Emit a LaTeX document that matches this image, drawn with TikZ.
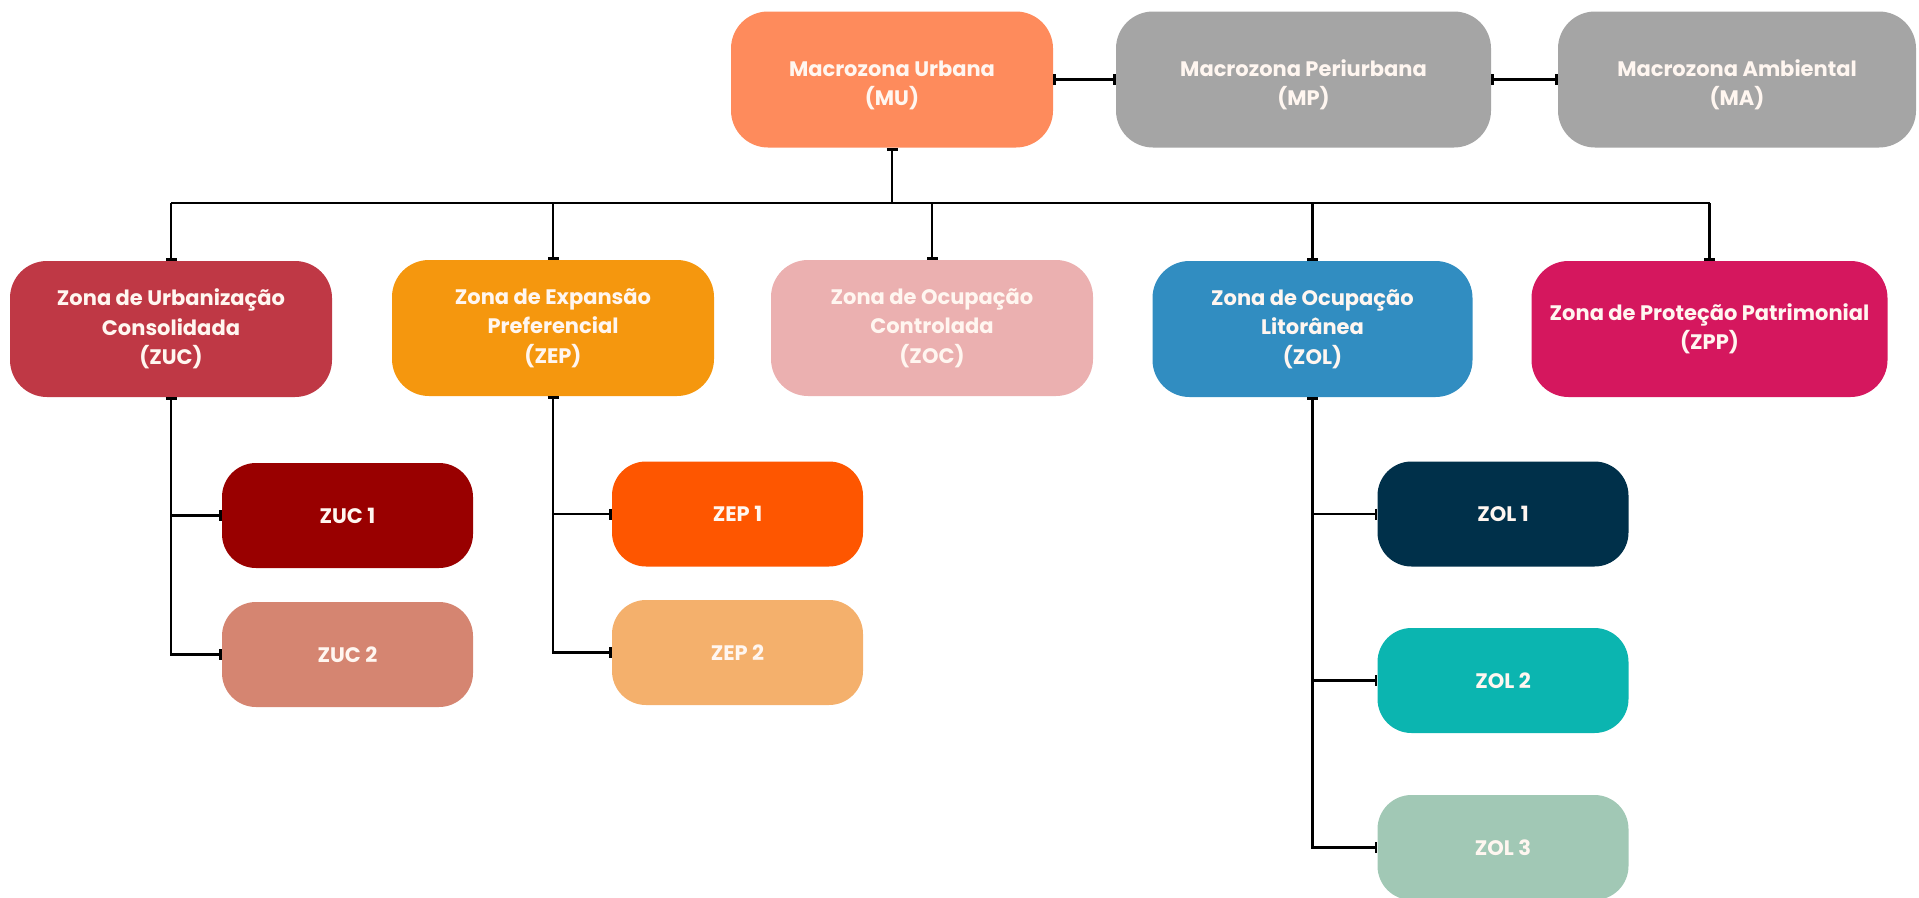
\documentclass[tikz,border=0pt]{standalone}
\usepackage{fontspec}
\setmainfont{Poppins}
\usetikzlibrary{arrows.meta}
\definecolor{cMU}{HTML}{FE8B5C}
\definecolor{cGray}{HTML}{A5A5A5}
\definecolor{cZUC}{HTML}{BF3845}
\definecolor{cZEP}{HTML}{F5970E}
\definecolor{cZOC}{HTML}{EBB0B0}
\definecolor{cZOL}{HTML}{318DC1}
\definecolor{cZPP}{HTML}{D5175E}
\definecolor{cZUCa}{HTML}{990000}
\definecolor{cZUCb}{HTML}{D58571}
\definecolor{cZEPa}{HTML}{FE5600}
\definecolor{cZEPb}{HTML}{F4B06C}
\definecolor{cZOLa}{HTML}{00304A}
\definecolor{cZOLb}{HTML}{0BB5B0}
\definecolor{cZOLc}{HTML}{A1C8B5}
\definecolor{txt}{HTML}{FFF6F0}
\newcommand{\lowr}{\rule{0pt}{27pt}}
\tikzset{
  zbox/.style={rectangle, rounded corners=37pt, inner sep=0pt, align=center,
    text=txt, font=\fontsize{21}{29.5}\selectfont\bfseries},
  bigbox/.style={zbox, minimum height=136pt},
  subbox/.style={zbox, rounded corners=34pt, minimum width=251pt, minimum height=105pt},
  conn/.style={line width=2.8pt, black},
  tip/.tip={Bar[width=11pt]}
}
\begin{document}
\begin{tikzpicture}[x=1pt,y=-1pt]
\useasboundingbox (0,0) rectangle (1919,897);
% top row
\node[bigbox, fill=cMU, minimum width=322pt] (MU) at (892,79.5) {\lowr Macrozona Urbana\\(MU)};
\node[bigbox, fill=cGray, minimum width=375pt] (MP) at (1303.5,79.5) {\lowr Macrozona Periurbana\\(MP)};
\node[bigbox, fill=cGray, minimum width=358pt] (MA) at (1737,79.5) {\lowr Macrozona Ambiental\\(MA)};
% second row
\node[bigbox, fill=cZUC, minimum width=322pt] (ZUC) at (171,329) {Zona de Urbanização\\Consolidada\\(ZUC)};
\node[bigbox, fill=cZEP, minimum width=322pt] (ZEP) at (553,328) {Zona de Expansão\\Preferencial\\(ZEP)};
\node[bigbox, fill=cZOC, minimum width=322pt] (ZOC) at (932,328) {Zona de Ocupação\\Controlada\\(ZOC)};
\node[bigbox, fill=cZOL, minimum width=320pt] (ZOL) at (1312.5,329) {Zona de Ocupação\\Litorânea\\(ZOL)};
\node[bigbox, fill=cZPP, minimum width=356pt] (ZPP) at (1709.5,329) {Zona de Proteção Patrimonial\\(ZPP)};
% children
\node[subbox, fill=cZUCa] (ZUC1) at (347.5,515.5) {ZUC 1};
\node[subbox, fill=cZUCb] (ZUC2) at (347.5,654.5) {ZUC 2};
\node[subbox, fill=cZEPa] (ZEP1) at (737.5,514) {ZEP 1};
\node[subbox, fill=cZEPb] (ZEP2) at (737.5,652.5) {ZEP 2};
\node[subbox, fill=cZOLa] (ZOL1) at (1503,514) {ZOL 1};
\node[subbox, fill=cZOLb] (ZOL2) at (1503,680.5) {ZOL 2};
\node[subbox, fill=cZOLc] (ZOL3) at (1503,847.5) {ZOL 3};
% connectors
\coordinate (bus) at (0,203);
\draw[conn, tip-tip] (MU.east) -- (MP.west);
\draw[conn, tip-tip] (MP.east) -- (MA.west);
\draw[conn, tip-] (MU.south) -- (MU.south |- bus);
\draw[conn] (ZUC.north |- bus) -- (ZPP.north |- bus);
\foreach \n in {ZUC,ZEP,ZOC,ZOL,ZPP}{
  \draw[conn, -tip] (\n.north |- bus) -- (\n.north);
}
\draw[conn, tip-tip] (ZUC.south) |- (ZUC2.west);
\draw[conn, -tip] (ZUC.south |- ZUC1.west) -- (ZUC1.west);
\draw[conn, tip-tip] (ZEP.south) |- (ZEP2.west);
\draw[conn, -tip] (ZEP.south |- ZEP1.west) -- (ZEP1.west);
\draw[conn, tip-tip] (ZOL.south) |- (ZOL3.west);
\draw[conn, -tip] (ZOL.south |- ZOL1.west) -- (ZOL1.west);
\draw[conn, -tip] (ZOL.south |- ZOL2.west) -- (ZOL2.west);
\end{tikzpicture}
\end{document}
